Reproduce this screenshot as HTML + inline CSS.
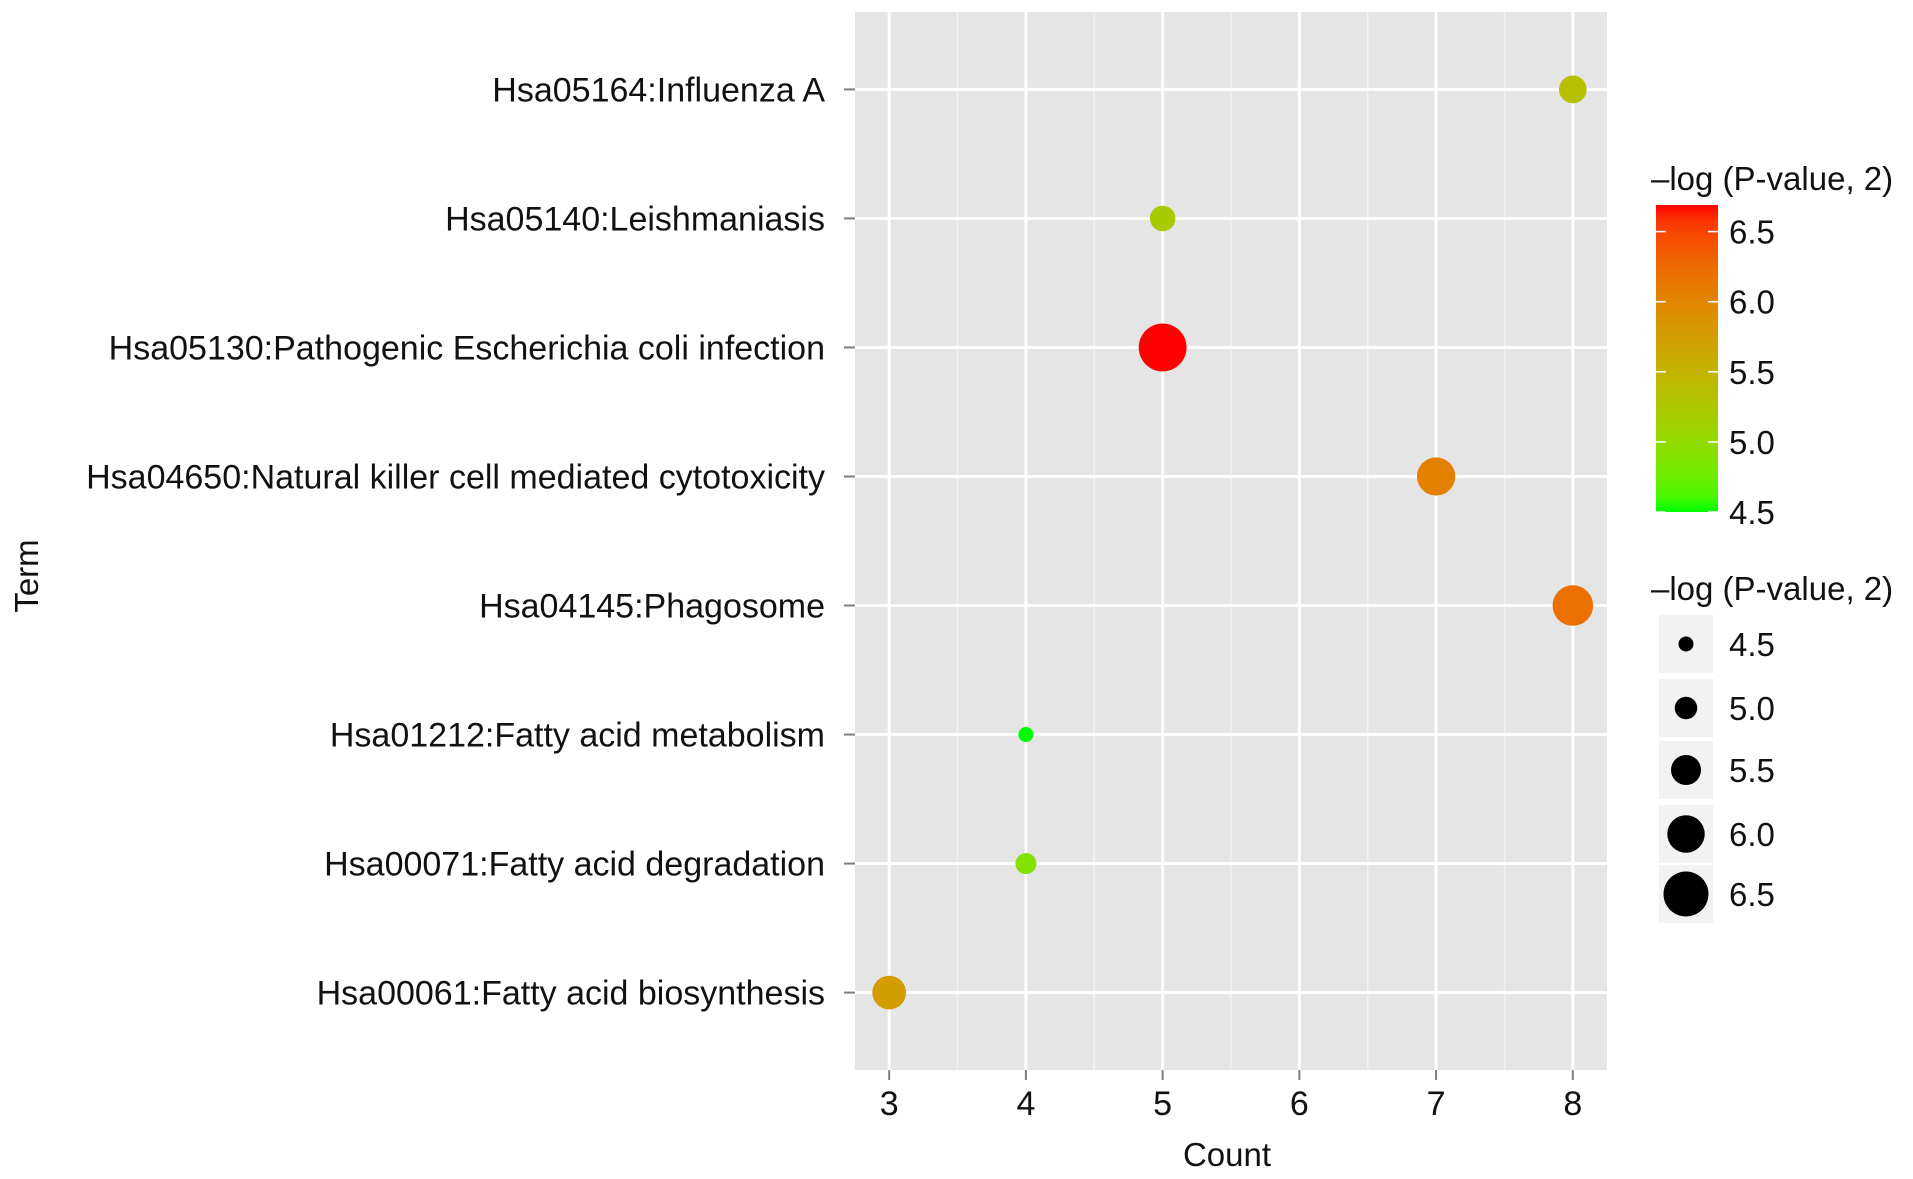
<!DOCTYPE html>
<html><head><meta charset="utf-8"><style>
html,body{margin:0;padding:0;background:#fff;}
svg{display:block;font-family:"Liberation Sans",sans-serif;}
</style></head><body>
<svg id="chart" width="1913" height="1179"></svg>
<script>
const terms=["Hsa05164:Influenza A","Hsa05140:Leishmaniasis","Hsa05130:Pathogenic Escherichia coli infection","Hsa04650:Natural killer cell mediated cytotoxicity","Hsa04145:Phagosome","Hsa01212:Fatty acid metabolism","Hsa00071:Fatty acid degradation","Hsa00061:Fatty acid biosynthesis"];
const counts=[8,5,5,7,8,4,4,3];
const logp=[5.35,5.2,6.69,6.05,6.2,4.5,4.9,5.75];
const xTicks=[3,4,5,6,7,8];
const legendVals=[4.5,5.0,5.5,6.0,6.5];

const NS="http://www.w3.org/2000/svg";
const svg=document.getElementById('chart');
function el(t,a,p){const e=document.createElementNS(NS,t);for(const k in a)e.setAttribute(k,a[k]);(p||svg).appendChild(e);return e;}
const PL=855,PR=1607,PT=12,PB=1070;
const X0=2.75,X1=8.25;
const xs=v=>PL+(v-X0)/(X1-X0)*(PR-PL);
const ys=i=>PT+(i+0.6)/(terms.length+0.2)*(PB-PT);
const CMIN=4.5,CMAX=6.69;
const sz=v=>15+(v-4.5)*15;
function toLin(c){c/=255;return c<=0.04045?c/12.92:Math.pow((c+0.055)/1.055,2.4);}
function fromLin(c){c=c<=0.0031308?12.92*c:1.055*Math.pow(c,1/2.4)-0.055;return Math.max(0,Math.min(255,Math.round(c*255)));}
function rgb2lab(r,g,b){r=toLin(r);g=toLin(g);b=toLin(b);
let X=(r*0.4124+g*0.3576+b*0.1805)/0.95047,Y=r*0.2126+g*0.7152+b*0.0722,Z=(r*0.0193+g*0.1192+b*0.9505)/1.08883;
const f=t=>t>0.008856?Math.cbrt(t):7.787*t+16/116;X=f(X);Y=f(Y);Z=f(Z);return[116*Y-16,500*(X-Y),200*(Y-Z)];}
function lab2rgb(L,a,b){let Y=(L+16)/116,X=a/500+Y,Z=Y-b/200;
const fi=t=>t*t*t>0.008856?t*t*t:(t-16/116)/7.787;X=fi(X)*0.95047;Y=fi(Y);Z=fi(Z)*1.08883;
const r=X*3.2406+Y*-1.5372+Z*-0.4986,g=X*-0.9689+Y*1.8758+Z*0.0415,bb=X*0.0557+Y*-0.2040+Z*1.0570;
return `rgb(${fromLin(r)},${fromLin(g)},${fromLin(bb)})`;}
const LG=rgb2lab(0,255,0),LR=rgb2lab(255,0,0);
function col(v){const t=Math.max(0,Math.min(1,(v-CMIN)/(CMAX-CMIN)));return lab2rgb(LG[0]+(LR[0]-LG[0])*t,LG[1]+(LR[1]-LG[1])*t,LG[2]+(LR[2]-LG[2])*t);}

const bg=el('rect',{x:PL,y:PT,width:PR-PL,height:PB-PT,fill:'#e5e5e5'});


for(let i=0;i<xTicks.length-1;i++){const v=(xTicks[i]+xTicks[i+1])/2;
const g=el('line',{x1:xs(v),x2:xs(v),y1:PT,y2:PB,stroke:'#f2f2f2','stroke-width':1.5});

}
xTicks.forEach(v=>{const g=el('line',{x1:xs(v),x2:xs(v),y1:PT,y2:PB,stroke:'#fff','stroke-width':3});


const tk=el('line',{x1:xs(v),x2:xs(v),y1:PB,y2:PB+10,stroke:'#7f7f7f','stroke-width':2});


const t=el('text',{x:xs(v),y:PB+45,'font-size':34,'text-anchor':'middle',fill:'#111'});t.textContent=v;

});
terms.forEach((n,i)=>{const y=ys(i);
const g=el('line',{x1:PL,x2:PR,y1:y,y2:y,stroke:'#fff','stroke-width':3});


const tk=el('line',{x1:PL-11,x2:PL,y1:y,y2:y,stroke:'#7f7f7f','stroke-width':2});


const t=el('text',{x:PL-30,y:y+12,'font-size':34,'text-anchor':'end',fill:'#111'});t.textContent=n;

});
terms.forEach((n,i)=>{const c=el('circle',{cx:xs(counts[i]),cy:ys(i),r:sz(logp[i])/2,fill:col(logp[i])});

});
let t=el('text',{x:1227,y:1166,'font-size':33,'text-anchor':'middle',fill:'#111'});t.textContent='Count';


t=el('text',{x:0,y:0,'font-size':33,'text-anchor':'middle',fill:'#111',transform:'translate(38,576) rotate(-90)'});t.textContent='Term';



t=el('text',{x:1651,y:190,'font-size':33,fill:'#111'});t.textContent='\u2013log (P-value, 2)';


const CB_T=205,CB_B=512,CB_L=1656,CB_W=62;
const cy=v=>CB_B-(v-CMIN)/(CMAX-CMIN)*(CB_B-CB_T);
const defs=el('defs',{});const gr=el('linearGradient',{id:'cg',x1:0,y1:1,x2:0,y2:0},defs);
for(let k=0;k<=20;k++){el('stop',{offset:k/20,'stop-color':col(CMIN+(CMAX-CMIN)*k/20)},gr);}
const cb=el('rect',{x:CB_L,y:CB_T,width:CB_W,height:CB_B-CB_T,fill:'url(#cg)'});


legendVals.forEach(v=>{const y=cy(v);
el('line',{x1:CB_L,x2:CB_L+10,y1:y,y2:y,stroke:'#fff','stroke-width':1.5});
el('line',{x1:CB_L+CB_W-10,x2:CB_L+CB_W,y1:y,y2:y,stroke:'#fff','stroke-width':1.5});
const l=el('text',{x:1729,y:y+12,'font-size':33,fill:'#111'});l.textContent=v.toFixed(1);

});

t=el('text',{x:1651,y:600,'font-size':33,fill:'#111'});t.textContent='\u2013log (P-value, 2)';


const keyY=[644,708,770,834,894];
legendVals.forEach((v,i)=>{const y=keyY[i];
const k=el('rect',{x:1658,y:y-30,width:56,height:60,fill:'#f2f2f2',stroke:'#fff','stroke-width':2});


const c=el('circle',{cx:1686,cy:y,r:sz(v)/2,fill:'#000'});


const l=el('text',{x:1729,y:y+12,'font-size':33,fill:'#111'});l.textContent=v.toFixed(1);

});
</script>
</body></html>
